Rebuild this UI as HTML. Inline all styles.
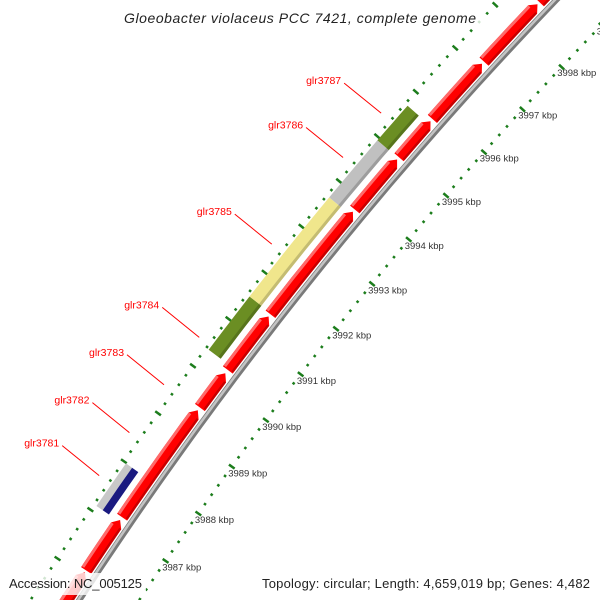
<!DOCTYPE html>
<html><head><meta charset="utf-8"><style>
html,body{margin:0;padding:0;background:#fff;overflow:hidden;width:600px;height:600px;}
svg{display:block;font-family:"Liberation Sans",sans-serif;overflow:hidden;}
</style></head><body>
<svg id="map" width="600" height="600" viewBox="0 0 600 600" xmlns="http://www.w3.org/2000/svg">
<g id="rulers"></g>
<g id="backbone"></g>
<g id="genes"></g>
<g id="feats"></g>
<g id="labels"></g>
<rect x="118" y="4" width="364" height="20" fill="#fff" fill-opacity="0.8"/>
<text x="124" y="23" font-size="14" font-style="italic" fill="#222" textLength="352">Gloeobacter violaceus PCC 7421, complete genome</text>
<rect x="4" y="573" width="142" height="22" fill="#fff" fill-opacity="0.8"/>
<rect x="258" y="573" width="338" height="22" fill="#fff" fill-opacity="0.8"/>
<text x="9" y="588" font-size="13" fill="#222" textLength="133">Accession: NC_005125</text>
<text x="262" y="588" font-size="13" fill="#222" textLength="328">Topology: circular; Length: 4,659,019 bp; Genes: 4,482</text>
</svg>
<script>
// data arrays (kbp)
var tickKbp = [3984,3985,3986,3987,3988,3989,3990,3991,3992,3993,3994,3995,3996,3997,3998,3999,4000];
var tickLabels = ["3984 kbp","3985 kbp","3986 kbp","3987 kbp","3988 kbp","3989 kbp","3990 kbp","3991 kbp","3992 kbp","3993 kbp","3994 kbp","3995 kbp","3996 kbp","3997 kbp","3998 kbp","3999 kbp","4000 kbp"];
var geneStarts = [3985.0,3986.1,3987.2,3989.5,3990.3,3991.5,3993.8,3994.97,3995.84,3997.16,3998.55];
var geneEnds   = [3986.06,3987.14,3989.44,3990.23,3991.45,3993.75,3994.92,3995.79,3997.11,3998.5,3999.8];
var featNames  = ["glr3781","glr3784","glr3785","glr3786","glr3787"];
var featStarts = [3987.11,3990.38,3991.52,3993.68,3994.95];
var featEnds   = [3987.99,3991.52,3993.68,3994.95,3995.73];
var featColors = ["#1a1a80","#6b8e23","#f0e68c","#c0c0c0","#6b8e23"];
var labelNames = ["glr3781","glr3782","glr3783","glr3784","glr3785","glr3786","glr3787"];
var labelKbp   = [3987.56,3988.45,3989.45,3990.45,3992.45,3994.35,3995.34];

var NS="http://www.w3.org/2000/svg";
var CX=3530, CY=2853, A0=0.6688, K=0.01415;
var R0=4121, RIN=4071, ROUT=4162, RLEAD=4174;
function ang(k){return A0+(k-3992)*K;}
function pt(r,k){var a=ang(k);return [CX-r*Math.cos(a), CY-r*Math.sin(a)];}
function mk(tag,parent,attrs){var e=document.createElementNS(NS,tag);for(var n in attrs)e.setAttribute(n,attrs[n]);parent.appendChild(e);return e;}
function arcPts(r,k1,k2){var s=[];var n=Math.max(2,Math.ceil((k2-k1)*4));for(var i=0;i<=n;i++){var p=pt(r,k1+(k2-k1)*i/n);s.push(p[0].toFixed(1)+","+p[1].toFixed(1));}return s;}

// rulers
var rg=document.getElementById('rulers');
[RIN,ROUT].forEach(function(R,ri){
  for(var k=3983;k<=4001.01;k+=0.2){
    var major=Math.abs(k-Math.round(k))<0.01;
    var h=major?3.5:1.3;
    var p1=pt(R-h,k),p2=pt(R+h,k);
    var l=mk('line',rg,{x1:p1[0],y1:p1[1],x2:p2[0],y2:p2[1],stroke:'#1c7d1c','stroke-width':2.5});
    
    
  }
});
tickKbp.forEach(function(k,i){
  var p=pt(RIN-1,k-0.13);
  var t=mk('text',rg,{x:p[0].toFixed(1),y:(p[1]+3).toFixed(1),'font-size':9.5,fill:'#333'});
  t.textContent=tickLabels[i];
  
  
});

// backbone
var bb=document.getElementById('backbone');
var b1=mk('polyline',bb,{points:arcPts(R0,3983,4001).join(' '),fill:'none',stroke:'#7a7a7a','stroke-width':6});


var b2=mk('polyline',bb,{points:arcPts(R0+1,3983,4001).join(' '),fill:'none',stroke:'#c4c4c4','stroke-width':2.5});



// genes (red, arrows)
var gg=document.getElementById('genes');
var GI=R0+4.5, GO=R0+16.7, AH=0.12;
geneStarts.forEach(function(s,i){
  var e=geneEnds[i];
  var outer=arcPts(GO,s,e-AH), inner=arcPts(GI,s,e-AH).reverse();
  var tip=pt((GI+GO)/2,e);
  var poly=outer.concat([tip[0].toFixed(1)+","+tip[1].toFixed(1)]).concat(inner);
  var g=mk('polygon',gg,{points:poly.join(' '),fill:'#ff0000'});
  
  
  var hl=mk('polyline',gg,{points:arcPts(GO-1.5,s+0.02,e-AH).join(' '),fill:'none',stroke:'#ff6a6a','stroke-width':3});
  
  
  var sh=mk('polyline',gg,{points:arcPts(GI+1.2,s+0.02,e-AH).join(' '),fill:'none',stroke:'#c80000','stroke-width':2.4});
  
  
});

// feature track
var fg=document.getElementById('feats');
var FI=R0+23, FO=R0+38;
featStarts.forEach(function(s,i){
  var e=featEnds[i];
  var c=featColors[i];
  if(i===0){
    var a=mk('polygon',fg,{points:arcPts(FO,s,e).concat(arcPts((FI+FO)/2,s,e).reverse()).join(' '),fill:'#c8c8c8'});
    
    
    var b=mk('polygon',fg,{points:arcPts((FI+FO)/2,s,e).concat(arcPts(FI,s,e).reverse()).join(' '),fill:c});
    
    
    return;
  }
  var p=mk('polygon',fg,{points:arcPts(FO,s,e).concat(arcPts(FI,s,e).reverse()).join(' '),fill:c});
  
  
  var sh=mk('polyline',fg,{points:arcPts(FI+1.5,s,e).join(' '),fill:'none',stroke:'#000','stroke-opacity':0.18,'stroke-width':3});
  
  
});

// labels with leader lines
var lg=document.getElementById('labels');
labelNames.forEach(function(n,i){
  var end=pt(RLEAD,labelKbp[i]);
  var sx=end[0]-37, sy=end[1]-30;
  var l=mk('line',lg,{x1:sx,y1:sy,x2:end[0],y2:end[1],stroke:'#ff0000','stroke-width':1});
  
  
  var t=mk('text',lg,{x:(sx-38).toFixed(1),y:(sy+1).toFixed(1),'font-size':10.5,fill:'#ff0000'});
  t.textContent=n;
  
  
});
</script>
</body></html>
